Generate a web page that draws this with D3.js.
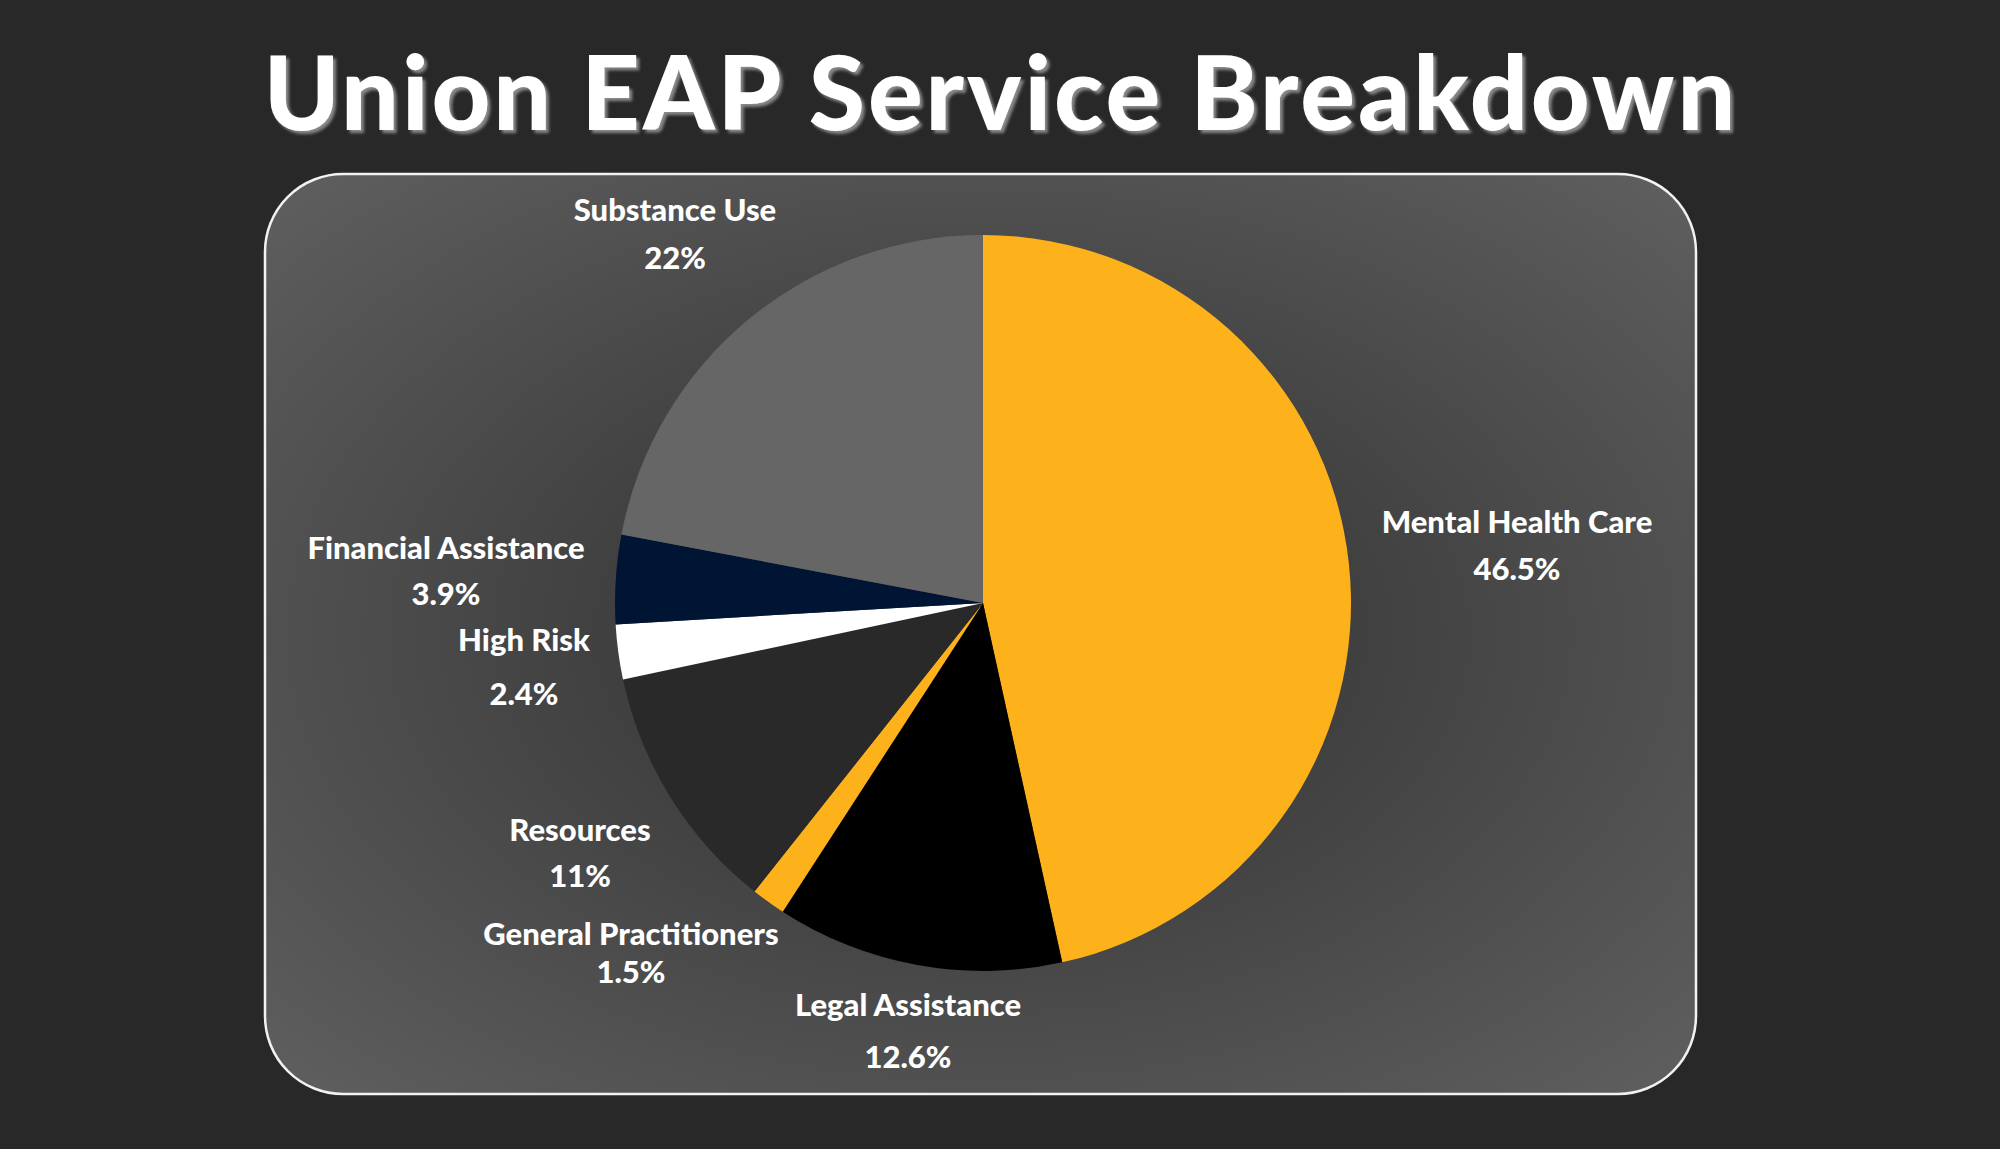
<!DOCTYPE html>
<html><head><meta charset="utf-8">
<script src="https://cdn.jsdelivr.net/npm/d3@7"></script>
<style>html,body{margin:0;padding:0;background:#282828;}svg{display:block}</style>
</head><body>
<svg id="c" width="2000" height="1149"></svg>
<script>
const categories = ["Mental Health Care","Legal Assistance","General Practitioners","Resources","High Risk","Financial Assistance","Substance Use"];
const values = [46.5,12.6,1.5,11,2.4,3.9,22];
const valueLabels = ["46.5%","12.6%","1.5%","11%","2.4%","3.9%","22%"];
const colors = ["#FDB11A","#000000","#FDB11A","#292929","#FFFFFF","#001433","#666666"];

// layout (label anchor points, not data)
const labelPos = [[1517,522,47],[908,1005,52],[631,934,38],[580,830,46],[524,640,54],[446,548,46],[675,210,48]];

const svg = d3.select("#c");
const defs = svg.append("defs");
const g1 = defs.append("radialGradient").attr("id","pg").attr("cx","50%").attr("cy","50%").attr("r","70%");
g1.append("stop").attr("offset","0%").attr("stop-color","#2e2e2e");
g1.append("stop").attr("offset","100%").attr("stop-color","#5f5f5f");
const f = defs.append("filter").attr("id","ts").attr("x","-5%").attr("y","-20%").attr("width","110%").attr("height","140%");
f.append("feDropShadow").attr("dx",3).attr("dy",3).attr("stdDeviation",1.5).attr("flood-color","#888");

svg.append("rect").attr("x",265).attr("y",174).attr("width",1431).attr("height",920)
  .attr("rx",78).attr("fill","url(#pg)").attr("stroke","#f2f2f2").attr("stroke-width",2.5);

svg.append("text").attr("x",1001).attr("y",130).attr("text-anchor","middle")
  .attr("font-family","Lato").attr("font-weight",900).attr("font-size",102).attr("letter-spacing",3)
  .attr("fill","#ffffff").attr("filter","url(#ts)").text("Union EAP Service Breakdown");

const cx=983, cy=603, r=368;
const pie = d3.pie().sort(null).value(d=>d);
const arc = d3.arc().innerRadius(0).outerRadius(r);
const gp = svg.append("g").attr("transform",`translate(${cx},${cy})`);
gp.selectAll("path").data(pie(values)).join("path").attr("d",arc).attr("fill",(d,i)=>colors[i]);

const lg = svg.append("g").attr("font-family","Lato").attr("font-weight",900).attr("fill","#fff").attr("text-anchor","middle");
categories.forEach((c,i)=>{
  const [x,y,gap]=labelPos[i];
  lg.append("text").attr("x",x).attr("y",y).attr("dy","0.35em").attr("font-size",31).text(c);
  lg.append("text").attr("x",x).attr("y",y+gap).attr("dy","0.35em").attr("font-size",31).text(valueLabels[i]);
});
</script>
</body></html>
